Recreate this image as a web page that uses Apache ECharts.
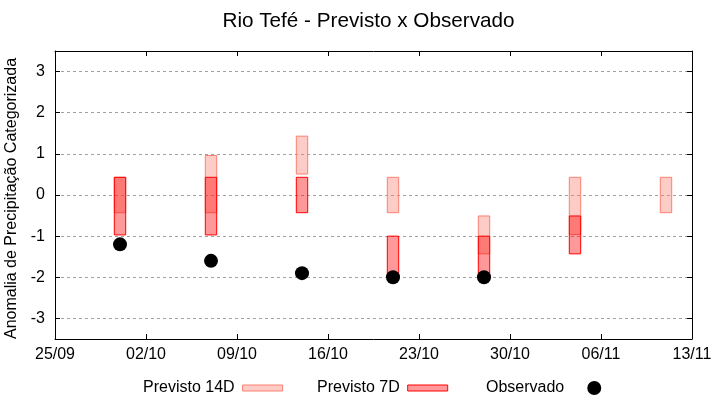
<!DOCTYPE html>
<html>
<head>
<meta charset="utf-8">
<script src="https://cdn.jsdelivr.net/npm/echarts@6/dist/echarts.min.js"></script>
<style>
html,body{margin:0;padding:0;background:#fff;}
#chart{width:720px;height:400px;}
</style>
</head>
<body>
<div id="chart"></div>
<script>
// ---- data ----
const startDate = '25/09';
const tickLabels = ['25/09','02/10','09/10','16/10','23/10','30/10','06/11','13/11'];
const dates = ['30/09','07/10','14/10','21/10','28/10','04/11','11/11'];
const prev14Low  = [-0.43, -0.43, 0.51, -0.43, -1.43, -0.96, -0.43];
const prev14High = [ 0.43,  0.96, 1.43,  0.43, -0.51,  0.43,  0.43];
const prev7Low   = [-0.97, -0.97, -0.43, -1.97, -1.97, -1.43, null];
const prev7High  = [ 0.43,  0.43,  0.43, -1.00, -1.00, -0.51, null];
const obsDates = ['30/09','07/10','14/10','21/10','28/10'];
const observado = [-1.2, -1.6, -1.9, -2.0, -2.0];
const yTicks = [-3,-2,-1,0,1,2,3];

function dayOffset(s){
  const [d,m] = s.split('/').map(Number);
  const [d0,m0] = startDate.split('/').map(Number);
  return Math.round((Date.UTC(2023,m-1,d) - Date.UTC(2023,m0-1,d0)) / 86400000);
}
const rows14 = dates.map((d,i)=>[dayOffset(d), prev14Low[i], prev14High[i]]);
const rows7 = dates.map((d,i)=>[dayOffset(d), prev7Low[i], prev7High[i]]).filter(r=>r[1]!==null);
const obsRows = obsDates.map((d,i)=>[dayOffset(d), observado[i]]);

const FONT = 'Liberation Sans';
const fill14 = 'rgba(250,128,114,0.4)', stroke14 = 'rgb(250,128,114)';
const fill7 = 'rgba(255,0,0,0.4)', stroke7 = 'rgb(255,0,0)';

function boxRenderer(fill, stroke){
  return function(params, api){
    const x = api.value(0), lo = api.value(1), hi = api.value(2);
    const pTop = api.coord([x, hi]);
    const pBot = api.coord([x, lo]);
    const half = 5.7;
    return {
      type: 'rect',
      shape: {x: pTop[0]-half, y: pTop[1], width: half*2, height: pBot[1]-pTop[1]},
      style: {fill: fill, stroke: stroke, lineWidth: 1}
    };
  };
}

const chart = echarts.init(document.getElementById('chart'), null, {renderer:'canvas'});
const axisBase = {
  type: 'value',
  axisLine: {show:true, onZero:false, lineStyle:{color:'#000', width:1}},
  axisTick: {show:true, inside:true, length:5, lineStyle:{color:'#000'}},
  splitLine: {show:false}
};
const legendText = {fontFamily: FONT, fontSize: 16, color:'#000'};
chart.setOption({
  animation: false,
  backgroundColor: '#fff',
  textStyle: {fontFamily: FONT, color:'#000'},
  title: {
    text: 'Rio Tefé - Previsto x Observado',
    left: 368.5, top: 11, textAlign: 'center', padding: 0,
    textStyle: {fontFamily: FONT, fontSize: 20.7, fontWeight: 'normal', color: '#000'}
  },
  legend: [
    {left: 143, top: 380, padding: 0, align: 'right', itemWidth: 40, itemHeight: 6, itemGap: 0,
     textStyle: Object.assign({padding:[0,3,0,0]}, legendText),
     data: [{name:'Previsto 14D', icon:'rect', itemStyle:{color: fill14, borderColor: stroke14, borderWidth:1}}]},
    {left: 317, top: 380, padding: 0, align: 'right', itemWidth: 40, itemHeight: 6, itemGap: 0,
     textStyle: Object.assign({padding:[0,3,0,0]}, legendText),
     data: [{name:'Previsto 7D', icon:'rect', itemStyle:{color: fill7, borderColor: stroke7, borderWidth:1}}]},
    {left: 486, top: 380, padding: 0, align: 'right', itemWidth: 50, itemHeight: 14, itemGap: 0,
     textStyle: legendText,
     data: [{name:'Observado', icon:'circle', itemStyle:{color:'#000', opacity:1}}]}
  ],
  grid: {left: 55, right: 28, top: 51, bottom: 61, outerBoundsMode: 'none', containLabel: false},
  xAxis: [
    Object.assign({}, axisBase, {
      position: 'bottom', min: 0, max: 49, interval: 7,
      axisLabel: {show:true, margin: 8, fontFamily: FONT, fontSize: 16, color:'#000',
        formatter: v => tickLabels[Math.round(v/7)]}
    }),
    Object.assign({}, axisBase, {
      position: 'top', min: 0, max: 49, interval: 7,
      axisLabel: {show:false}
    })
  ],
  yAxis: [
    Object.assign({}, axisBase, {
      position: 'left', min: -3.5, max: 3.5,
      name: 'Anomalia de Precipitação Categorizada',
      nameLocation: 'middle', nameGap: 18,
      nameTextStyle: {fontFamily: FONT, fontSize: 16, color:'#000', padding:[0,7,0,0]},
      axisTick: {show:true, inside:true, length:5, lineStyle:{color:'#000'}, customValues: yTicks},
      axisLabel: {show:true, margin: 10, fontFamily: FONT, fontSize: 16, color:'#000', customValues: yTicks},
      splitLine: {show:true, lineStyle:{color:'#a0a0a0', type:[3,3], width:1}}
    }),
    Object.assign({}, axisBase, {
      position: 'right', min: -3.5, max: 3.5,
      axisTick: {show:true, inside:true, length:5, lineStyle:{color:'#000'}, customValues: yTicks},
      axisLabel: {show:false, customValues: yTicks}
    })
  ],
  series: [
    {name:'Previsto 14D', type:'custom', xAxisIndex:0, yAxisIndex:0,
     renderItem: boxRenderer(fill14, stroke14), encode:{x:0, y:[1,2]}, data: rows14,
     itemStyle:{color: fill14, borderColor: stroke14}},
    {name:'Previsto 7D', type:'custom', xAxisIndex:0, yAxisIndex:0,
     renderItem: boxRenderer(fill7, stroke7), encode:{x:0, y:[1,2]}, data: rows7,
     itemStyle:{color: fill7, borderColor: stroke7}},
    {name:'Observado', type:'scatter', xAxisIndex:0, yAxisIndex:0,
     symbol:'circle', symbolSize: 14, itemStyle:{color:'#000', opacity:1}, data: obsRows, z: 5}
  ]
});
</script>
</body>
</html>
